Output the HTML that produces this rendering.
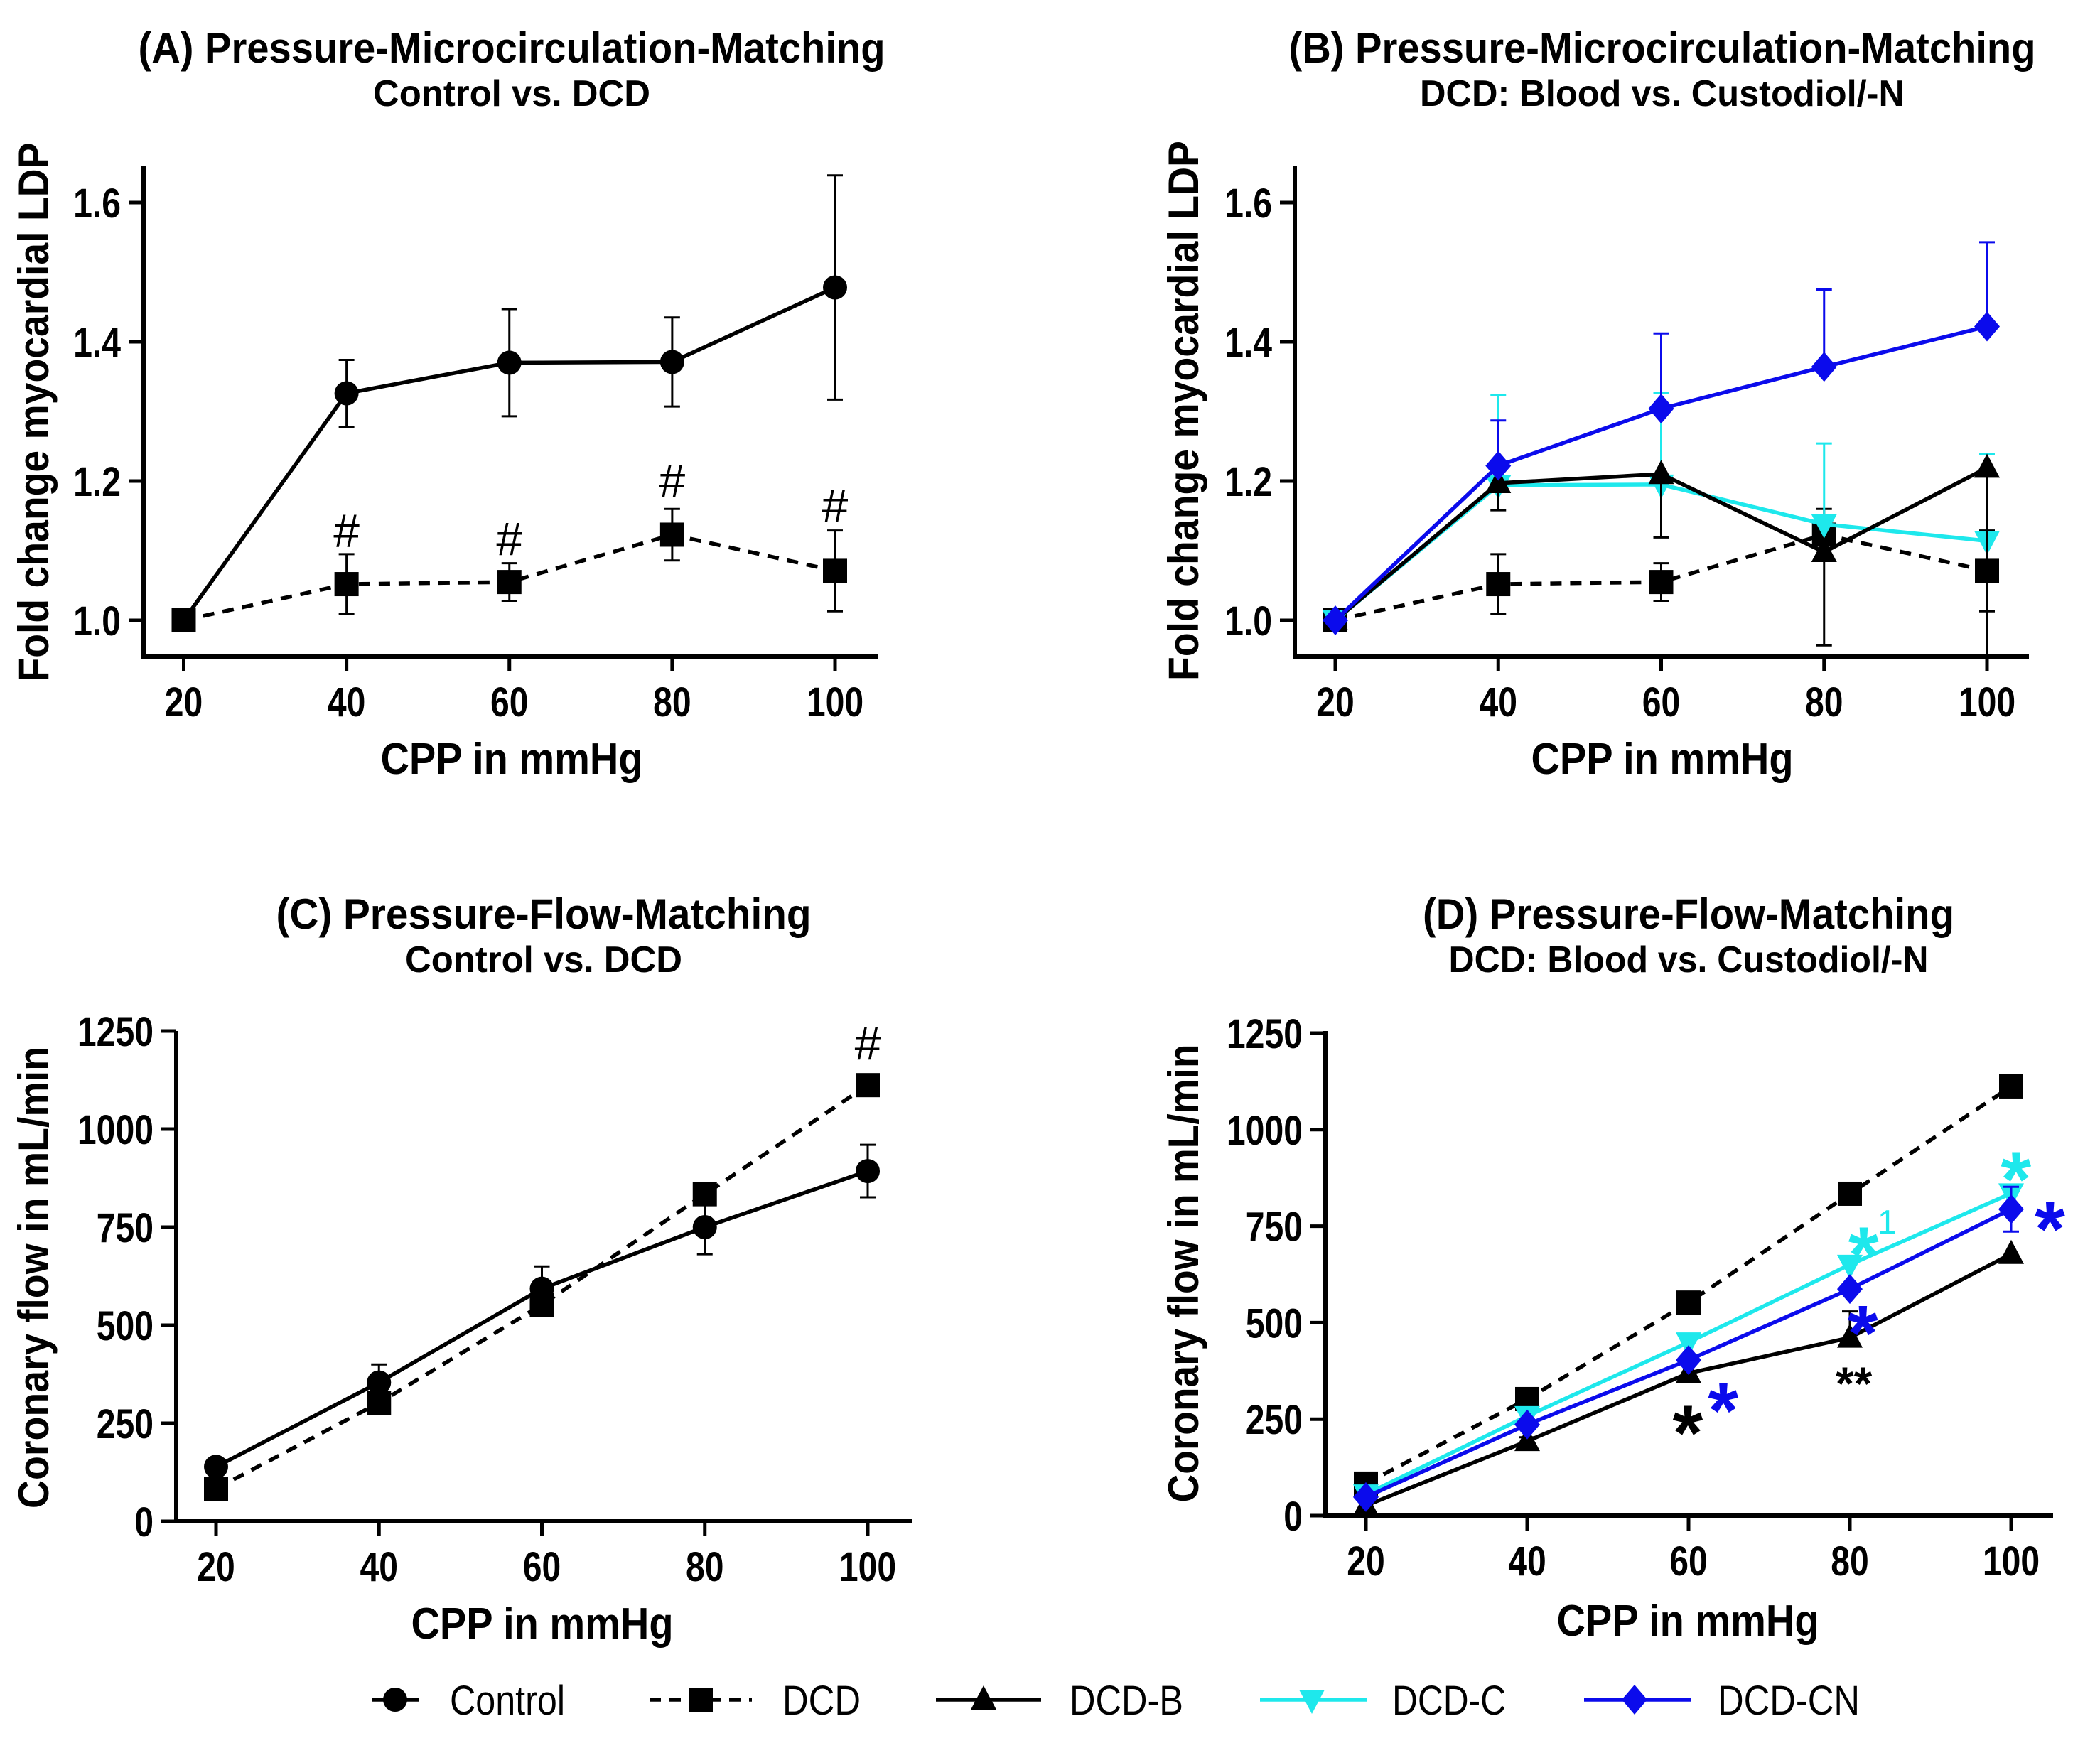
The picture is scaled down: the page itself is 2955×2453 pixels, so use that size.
<!DOCTYPE html>
<html><head><meta charset="utf-8"><style>
html,body{margin:0;padding:0;background:#fff;}
svg{display:block;font-family:"Liberation Sans",Arial,sans-serif;}
</style></head><body>
<svg id="fig" width="2955" height="2453" viewBox="0 0 2955 2453" xmlns="http://www.w3.org/2000/svg"></svg>
<script>
// ---- data ----
const cpp = [20, 40, 60, 80, 100];
const ldpTicks = [1.0, 1.2, 1.4, 1.6];
const ldpTickLabels = ["1.0", "1.2", "1.4", "1.6"];
const flowTicks = [0, 250, 500, 750, 1000, 1250];
const flowTickLabels = ["0", "250", "500", "750", "1000", "1250"];
const xTickLabels = ["20", "40", "60", "80", "100"];

const ldpControl = [1.0, 1.326, 1.37, 1.371, 1.478];
const ldpControlErr = [0, 0.048, 0.077, 0.064, 0.161];
const ldpDCD = [1.0, 1.052, 1.055, 1.123, 1.071];
const ldpDCDErr = [0, 0.043, 0.027, 0.037, 0.058];
const ldpDCDB = [1.0, 1.197, 1.21, 1.098, 1.219];
const ldpDCDBErr = [0, 0.039, 0.091, 0.134, 0.3];
const ldpDCDC = [1.0, 1.194, 1.195, 1.138, 1.114];
const ldpDCDCErr = [0, 0.13, 0.132, 0.116, 0.125];
const ldpDCDCN = [1.0, 1.222, 1.304, 1.364, 1.422];
const ldpDCDCNErr = [0, 0.065, 0.108, 0.111, 0.121];
const hashA = [null, 1.13, 1.118, 1.202, 1.166];

const flowControl = [139, 354, 593, 750, 893];
const flowControlErr = [8, 46, 57, 69, 67];
const flowDCD = [83, 302, 552, 834, 1112];
const flowDCDErr = [5, 8, 10, 12, 14];
const flowDCDB = [26, 193, 369, 461, 678];
const flowDCDBErr = [0, 10, 38, 68, 0];
const flowDCDC = [55, 258, 449, 650, 835];
const flowDCDCErr = [0, 5, 8, 8, 10];
const flowDCDCN = [48, 236, 403, 587, 794];
const flowDCDCNErr = [0, 5, 6, 10, 58];

const NS = "http://www.w3.org/2000/svg";
const svg = document.getElementById("fig");
const CYAN = "#1ee8ec", BLUE = "#0b0bec";
function mk(tag, attrs, parent) {
  const e = document.createElementNS(NS, tag);
  for (const k in attrs) e.setAttribute(k, attrs[k]);
  (parent || svg).appendChild(e);
  return e;
}
function txt(s, attrs, parent) { const e = mk("text", attrs, parent); e.textContent = s; return e; }
function condense(el, f) {
  const L = el.getComputedTextLength();
  if (L > 0) { el.setAttribute("textLength", (L * f).toFixed(1)); el.setAttribute("lengthAdjust", "spacingAndGlyphs"); }
}

function linScale(d0, d1, r0, r1) { return v => r0 + (v - d0) * (r1 - r0) / (d1 - d0); }

function marker(g, type, x, y, color) {
  let m;
  if (type === "circle") m = mk("circle", {cx: x, cy: y, r: 17, fill: color}, g);
  else if (type === "square") m = mk("rect", {x: x - 17, y: y - 17, width: 34, height: 34, fill: color}, g);
  else if (type === "up") m = mk("polygon", {points: `${x},${y-20} ${x-18},${y+14} ${x+18},${y+14}`, fill: color}, g);
  else if (type === "down") m = mk("polygon", {points: `${x},${y+20} ${x-18},${y-14} ${x+18},${y-14}`, fill: color}, g);
  else m = mk("polygon", {points: `${x},${y-21} ${x+18},${y} ${x},${y+21} ${x-18},${y}`, fill: color}, g);
  
  
  return m;
}

function series(g, xs, ys, vals, errs, dir, opts, clipMin) {
  const sg = mk("g", {}, g);
  
  
  vals.forEach((v, i) => {
    const e = errs[i]; if (!e) return;
    const x = xs(cpp[i]);
    const parts = [];
    if (dir === "both" || dir === "up") parts.push(v + e);
    if (dir === "both" || dir === "down") parts.push(Math.max(v - e, clipMin));
    parts.forEach(t => {
      const yy = ys(t);
      mk("line", {x1: x, y1: ys(v), x2: x, y2: yy, stroke: opts.color, "stroke-width": 3}, sg);
      if (t !== clipMin) mk("line", {x1: x - 11, y1: yy, x2: x + 11, y2: yy, stroke: opts.color, "stroke-width": 3}, sg);
    });
  });
  const pts = vals.map((v, i) => xs(cpp[i]) + "," + ys(v)).join(" ");
  const pl = mk("polyline", {points: pts, fill: "none", stroke: opts.color, "stroke-width": 5.5,
    "stroke-dasharray": opts.dash || "none"}, sg);
  
  
  vals.forEach((v, i) => marker(sg, opts.marker, xs(cpp[i]), ys(v), opts.color));
}

function axes(g, P, ticks, labels, xs, ys) {
  const ax = mk("g", {}, g);
  
  
  mk("line", {x1: P.x0, y1: P.top, x2: P.x0, y2: P.axisY + 2.5, stroke: "#000", "stroke-width": 6}, ax);
  mk("line", {x1: P.x0 - 3, y1: P.axisY, x2: P.right, y2: P.axisY, stroke: "#000", "stroke-width": 6}, ax);
  ticks.forEach((t, i) => {
    const y = ys(t);
    mk("line", {x1: P.x0 - 21, y1: y, x2: P.x0, y2: y, stroke: "#000", "stroke-width": 5}, ax);
    const l = txt(labels[i], {x: P.x0 - 32, y: y + 21, "text-anchor": "end", "font-size": 58, "font-weight": "bold"}, ax);
    
    
    condense(l, 0.83);
  });
  cpp.forEach((c, i) => {
    const x = xs(c);
    mk("line", {x1: x, y1: P.axisY, x2: x, y2: P.axisY + 21, stroke: "#000", "stroke-width": 5}, ax);
    const l = txt(xTickLabels[i], {x: x, y: P.xLabY, "text-anchor": "middle", "font-size": 58, "font-weight": "bold"}, ax);
    
    
    condense(l, 0.83);
  });
  const xt = txt("CPP in mmHg", {x: P.xTitleX, y: P.xTitleY, "text-anchor": "middle", "font-size": 62, "font-weight": "bold", textLength: 369, lengthAdjust: "spacingAndGlyphs"}, ax);
  
  
  const yt = txt(P.yTitle, {x: 0, y: 0, "text-anchor": "middle", "font-size": 60, "font-weight": "bold",
    textLength: P.yTitleLen, lengthAdjust: "spacingAndGlyphs",
    transform: `translate(${P.yTitleX},${P.yTitleC}) rotate(-90)`}, ax);
  
  
  const t1 = txt(P.title, {x: P.titleX, y: P.titleY, "text-anchor": "middle", "font-size": 60, "font-weight": "bold", textLength: P.titleLen, lengthAdjust: "spacingAndGlyphs"}, g);
  
  
  const t2 = txt(P.sub, {x: P.titleX, y: P.titleY + 61, "text-anchor": "middle", "font-size": 52, "font-weight": "bold", textLength: P.subLen, lengthAdjust: "spacingAndGlyphs"}, g);
  
  
}

function note(g, s, x, y, color, fs, name, weight) {
  const off = s === "#" ? 0.36 * fs : 0.58 * fs;
  const t = txt(s, {x: x, y: y + off, "text-anchor": "middle", "font-size": fs, fill: color, "font-weight": weight || "normal"}, g);
  
  
}

// ---- Panel A ----
(function(){
  const g = mk("g", {});  
  const P = {x0: 202, top: 233, axisY: 924, right: 1236, xLabY: 1008, xTitleX: 720, xTitleY: 1089,
    yTitle: "Fold change myocardial LDP", yTitleX: 68, yTitleC: 580, yTitleLen: 759,
    title: "(A) Pressure-Microcirculation-Matching", sub: "Control vs. DCD", titleX: 720, titleY: 88, titleLen: 1051, subLen: 390};
  const xs = linScale(20, 100, 258.5, 1175), ys = linScale(1.0, 1.6, 873, 285);
  axes(g, P, ldpTicks, ldpTickLabels, xs, ys);
  series(g, xs, ys, ldpControl, ldpControlErr, "both", {name: "series-control", color: "#000", marker: "circle"}, 0.95);
  series(g, xs, ys, ldpDCD, ldpDCDErr, "both", {name: "series-dcd", color: "#000", marker: "square", dash: "16 12"}, 0.95);
  hashA.forEach((v, i) => { if (v !== null) note(g, "#", xs(cpp[i]), ys(v), "#000", 66, "significance-hash"); });
})();

// ---- Panel B ----
(function(){
  const g = mk("g", {});  
  const P = {x0: 1822, top: 233, axisY: 924, right: 2855, xLabY: 1008, xTitleX: 2339, xTitleY: 1089,
    yTitle: "Fold change myocardial LDP", yTitleX: 1686, yTitleC: 578, yTitleLen: 760,
    title: "(B) Pressure-Microcirculation-Matching", sub: "DCD: Blood vs. Custodiol/-N", titleX: 2339, titleY: 88, titleLen: 1051, subLen: 682};
  const xs = linScale(20, 100, 1879, 2796), ys = linScale(1.0, 1.6, 873, 285);
  axes(g, P, ldpTicks, ldpTickLabels, xs, ys);
  series(g, xs, ys, ldpDCD, ldpDCDErr, "both", {name: "series-dcd", color: "#000", marker: "square", dash: "16 12"}, 0.95);
  series(g, xs, ys, ldpDCDC, ldpDCDCErr, "up", {name: "series-dcd-c", color: CYAN, marker: "down"}, 0.95);
  series(g, xs, ys, ldpDCDB, ldpDCDBErr, "down", {name: "series-dcd-b", color: "#000", marker: "up"}, 0.95);
  series(g, xs, ys, ldpDCDCN, ldpDCDCNErr, "up", {name: "series-dcd-cn", color: BLUE, marker: "diamond"}, 0.95);
})();

// ---- Panel C ----
(function(){
  const g = mk("g", {});  
  const P = {x0: 248, top: 1451, axisY: 2141, right: 1283, xLabY: 2225, xTitleX: 763, xTitleY: 2306,
    yTitle: "Coronary flow in mL/min", yTitleX: 68, yTitleC: 1798, yTitleLen: 650,
    title: "(C) Pressure-Flow-Matching", sub: "Control vs. DCD", titleX: 765, titleY: 1307, titleLen: 753, subLen: 390};
  const xs = linScale(20, 100, 304, 1221), ys = linScale(0, 1250, 2141, 1451);
  axes(g, P, flowTicks, flowTickLabels, xs, ys);
  series(g, xs, ys, flowControl, flowControlErr, "both", {name: "series-control", color: "#000", marker: "circle"}, 0);
  series(g, xs, ys, flowDCD, flowDCDErr, "both", {name: "series-dcd", color: "#000", marker: "square", dash: "16 12"}, 0);
  note(g, "#", xs(100), ys(1221), "#000", 66, "significance-hash");
})();

// ---- Panel D ----
(function(){
  const g = mk("g", {});  
  const P = {x0: 1865, top: 1451, axisY: 2133, right: 2889, xLabY: 2217, xTitleX: 2375, xTitleY: 2302,
    yTitle: "Coronary flow in mL/min", yTitleX: 1686, yTitleC: 1792, yTitleLen: 645,
    title: "(D) Pressure-Flow-Matching", sub: "DCD: Blood vs. Custodiol/-N", titleX: 2376, titleY: 1307, titleLen: 748, subLen: 675};
  const xs = linScale(20, 100, 1922, 2830), ys = linScale(0, 1250, 2133, 1454);
  axes(g, P, flowTicks, flowTickLabels, xs, ys);
  series(g, xs, ys, flowDCD, flowDCDErr, "both", {name: "series-dcd", color: "#000", marker: "square", dash: "16 12"}, 0);
  series(g, xs, ys, flowDCDB, flowDCDBErr, "up", {name: "series-dcd-b", color: "#000", marker: "up"}, 0);
  series(g, xs, ys, flowDCDC, flowDCDCErr, "up", {name: "series-dcd-c", color: CYAN, marker: "down"}, 0);
  series(g, xs, ys, flowDCDCN, flowDCDCNErr, "both", {name: "series-dcd-cn", color: BLUE, marker: "diamond"}, 0);
  note(g, "*", xs(100.6), ys(919), CYAN, 110, "significance-star-c", "bold");
  note(g, "*", xs(81.7), ys(724), CYAN, 110, "significance-star-c", "bold");
  const one = txt("1", {x: xs(84.6), y: ys(763) + 18, "text-anchor": "middle", "font-size": 48, fill: CYAN});
  
  
  g.appendChild(one);
  note(g, "*", xs(104.8), ys(790), BLUE, 110, "significance-star-cn", "bold");
  note(g, "*", xs(81.6), ys(521), BLUE, 110, "significance-star-cn", "bold");
  note(g, "*", xs(64.3), ys(320), BLUE, 110, "significance-star-cn", "bold");
  note(g, "*", xs(59.9), ys(262), "#000", 110, "significance-star-b", "bold");
  note(g, "**", xs(80.5), ys(371), "#000", 66, "significance-star-b", "bold");
})();

// ---- Legend ----
(function(){
  const g = mk("g", {});  
  const ly = 2392;
  const items = [
    {label: "Control", x1: 523, x2: 590, m: 556, t: 633, w: 162, color: "#000", marker: "circle", dash: "none"},
    {label: "DCD", x1: 914, x2: 1058, m: 986, t: 1101, w: 110, color: "#000", marker: "square", dash: "16 12"},
    {label: "DCD-B", x1: 1317, x2: 1465, m: 1384, t: 1505, w: 160, color: "#000", marker: "up", dash: "none"},
    {label: "DCD-C", x1: 1773, x2: 1923, m: 1846, t: 1959, w: 160, color: CYAN, marker: "down", dash: "none"},
    {label: "DCD-CN", x1: 2229, x2: 2379, m: 2300, t: 2417, w: 200, color: BLUE, marker: "diamond", dash: "none"}
  ];
  items.forEach(it => {
    const eg = mk("g", {}, g);
    
    
    mk("line", {x1: it.x1, y1: ly, x2: it.x2, y2: ly, stroke: it.color, "stroke-width": 5.5, "stroke-dasharray": it.dash}, eg);
    marker(eg, it.marker, it.m, ly, it.color);
    const t = txt(it.label, {x: it.t, y: ly + 21, "font-size": 58, textLength: it.w, lengthAdjust: "spacingAndGlyphs"}, eg);
    
    
  });
})();
</script>
</body></html>
